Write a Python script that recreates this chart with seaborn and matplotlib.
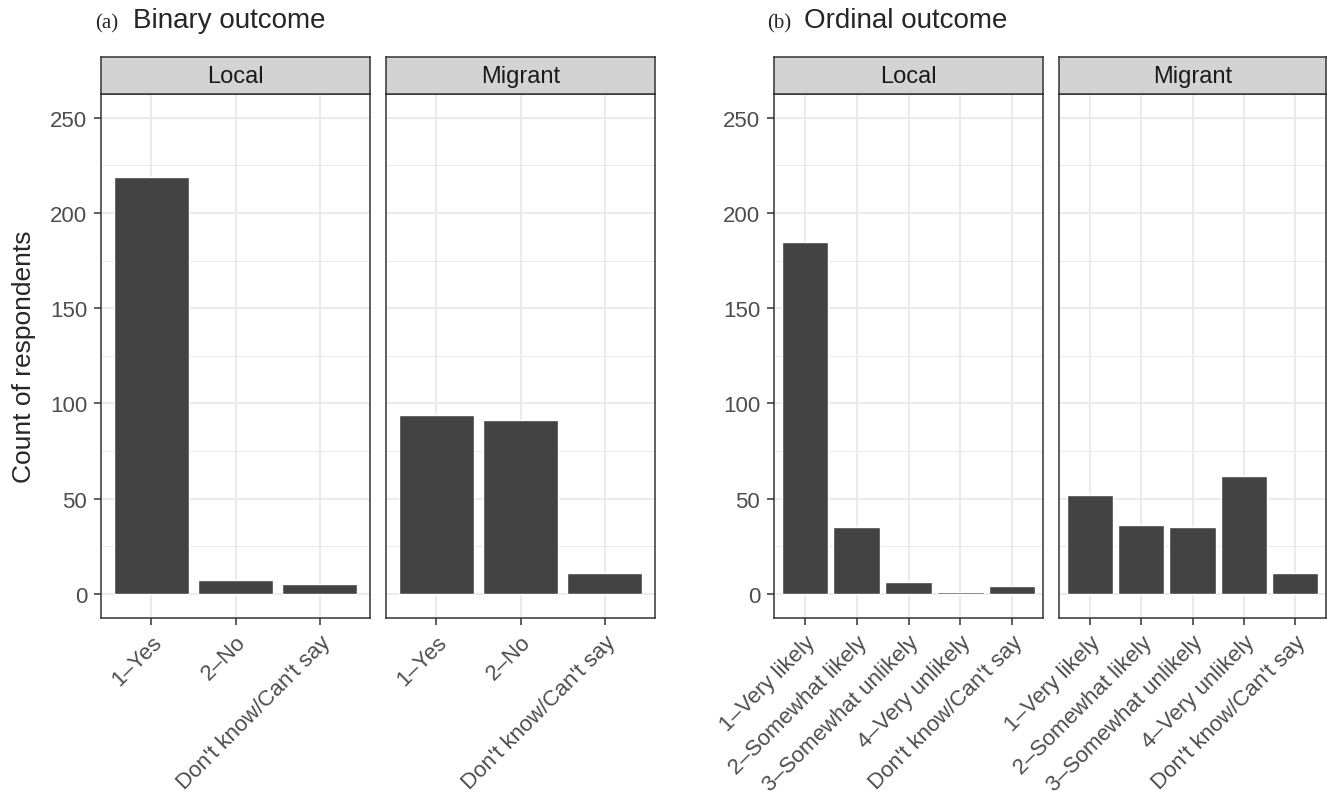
import pandas as pd
import seaborn as sns
import matplotlib.pyplot as plt
from matplotlib.ticker import MultipleLocator

# response categories and counts
groups = ["Local", "Migrant"]
binary_cats = ["1\u2013Yes", "2\u2013No", "Don't know/Can't say"]
binary_local = [219, 7, 5]
binary_migrant = [94, 91, 11]
ordinal_cats = ["1\u2013Very likely", "2\u2013Somewhat likely", "3\u2013Somewhat unlikely",
                "4\u2013Very unlikely", "Don't know/Can't say"]
ordinal_local = [185, 35, 6, 1, 4]
ordinal_migrant = [52, 36, 35, 62, 11]

BAR = "#434343"
GRID = "#EBEBEB"
LINE = "#333333"
STRIP = "#D3D3D3"

sns.set_theme(style="white")
plt.rcParams['font.family'] = ['Liberation Sans', 'DejaVu Sans']

W, H = 1327, 803
fig = plt.figure(figsize=(W / 100, H / 100), dpi=100)


def px_axes(x0, y0, x1, y1):
    # axes from pixel box (top-left origin)
    return fig.add_axes([x0 / W, 1 - y1 / H, (x1 - x0) / W, (y1 - y0) / H])


PANEL_TOP, PANEL_BOT = 95, 618.5
STRIP_TOP = 58

panels = [
    ((101, 370), binary_cats, binary_local, groups[0], True),
    ((386, 655), binary_cats, binary_migrant, groups[1], False),
    ((774, 1043), ordinal_cats, ordinal_local, groups[0], True),
    ((1059, 1326), ordinal_cats, ordinal_migrant, groups[1], False),
]

for (x0, x1), cats, vals, grp, first in panels:
    ax = px_axes(x0, PANEL_TOP, x1, PANEL_BOT)
    df = pd.DataFrame({"response": cats, "count": vals})
    sns.barplot(data=df, x="response", y="count", order=cats, color=BAR,
                saturation=1, width=0.9, errorbar=None, ax=ax, zorder=3)
    n = len(cats)
    ax.set_xlim(-0.6, n - 0.4)
    ax.set_ylim(-12.5, 262.5)
    ax.yaxis.set_major_locator(MultipleLocator(50))
    ax.yaxis.set_minor_locator(MultipleLocator(25))
    ax.set_axisbelow(True)
    ax.grid(True, which="major", axis="both", color=GRID, lw=1.5)
    ax.grid(True, which="minor", axis="y", color=GRID, lw=0.75)
    ax.set_xticks(range(n))
    ax.set_xticklabels(cats, rotation=45, ha="right", va="top",
                       rotation_mode="anchor", fontsize=16, color="#4D4D4D")
    ax.tick_params(axis="both", which="major", length=5, width=1.1,
                   color=LINE, pad=5, bottom=True, left=first)
    ax.tick_params(axis="y", which="minor", length=0)
    ax.tick_params(axis="y", labelsize=16, labelcolor="#4D4D4D")
    if not first:
        ax.set_yticklabels([])
    ax.set_xlabel("")
    ax.set_ylabel("")
    for s in ax.spines.values():
        s.set_color(LINE)
        s.set_linewidth(1.1)
        s.set_visible(True)

    # facet strip
    sax = px_axes(x0, STRIP_TOP, x1, PANEL_TOP)
    sax.set_facecolor(STRIP)
    sax.set_xticks([])
    sax.set_yticks([])
    for s in sax.spines.values():
        s.set_color(LINE)
        s.set_linewidth(1.1)
        s.set_visible(True)
    sax.text(0.5, 0.48, grp, ha="center", va="center", fontsize=17,
             color="#1A1A1A", transform=sax.transAxes)

# panel titles
serif = ["Liberation Serif", "DejaVu Serif"]
fig.text(95 / W, 1 - 28 / H, "(a)", family=serif, fontsize=15, va="baseline", ha="left")
fig.text(133 / W, 1 - 28 / H, "Binary outcome", fontsize=20, va="baseline", ha="left")
fig.text(767 / W, 1 - 28 / H, "(b)", family=serif, fontsize=15, va="baseline", ha="left")
fig.text(804 / W, 1 - 28 / H, "Ordinal outcome", fontsize=20, va="baseline", ha="left")

fig.text(12 / W, 1 - (PANEL_TOP + PANEL_BOT) / 2 / H, "Count of respondents",
         rotation=90, ha="left", va="center", fontsize=19)

fig.savefig("out.png", dpi=100, facecolor="white")
